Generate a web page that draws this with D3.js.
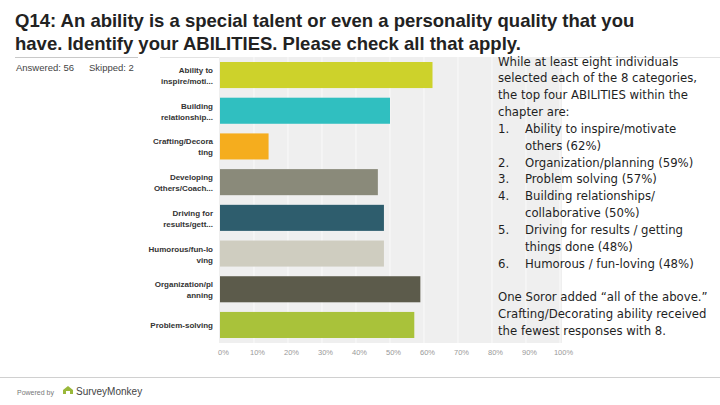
<!DOCTYPE html>
<html>
<head>
<meta charset="utf-8">
<script src="https://cdn.jsdelivr.net/npm/d3@7"></script>
<style>
  body { margin: 0; background: #fff; }
  svg { display: block; }
</style>
</head>
<body>
<svg></svg>
<script>
// categories, as SurveyMonkey shortens them (two lines each)
const categories = [
  ["Ability to", "inspire/moti..."],
  ["Building", "relationship..."],
  ["Crafting/Decora", "ting"],
  ["Developing", "Others/Coach..."],
  ["Driving for", "results/gett..."],
  ["Humorous/fun-lo", "ving"],
  ["Organization/pl", "anning"],
  ["Problem-solving"]
];
// responses out of 56 answered
const counts = [35, 28, 8, 26, 27, 27, 33, 32];
const answered = 56;
const barColors = ["#cdd22b", "#30bfc0", "#f5ad1e", "#8a8a7a", "#2e5d6d", "#cfcdc0", "#5c5b4b", "#a9c23a"];
const tickValues = [0, 0.1, 0.2, 0.3, 0.4, 0.5, 0.6, 0.7, 0.8, 0.9, 1];

const notes = [
  {n: "", t: "While at least eight individuals"},
  {n: "", t: "selected each of the 8 categories,"},
  {n: "", t: "the top four ABILITIES within the"},
  {n: "", t: "chapter are:"},
  {n: "1.", t: "Ability to inspire/motivate"},
  {n: "", t: "others (62%)", indent: true},
  {n: "2.", t: "Organization/planning (59%)"},
  {n: "3.", t: "Problem solving (57%)"},
  {n: "4.", t: "Building relationships/"},
  {n: "", t: "collaborative (50%)", indent: true},
  {n: "5.", t: "Driving for results / getting"},
  {n: "", t: "things done (48%)", indent: true},
  {n: "6.", t: "Humorous / fun-loving (48%)"},
  {n: "", t: ""},
  {n: "", t: "One Soror added \u201call of the above.\u201d"},
  {n: "", t: "Crafting/Decorating ability received"},
  {n: "", t: "the fewest responses with 8."}
];

const width = 720, height = 405;
const svg = d3.select("svg").attr("width", width).attr("height", height);

// title
const title = svg.append("text")
  .attr("font-family", "Liberation Sans, Arial, sans-serif")
  .attr("font-weight", "bold")
  .attr("font-size", 18.5)
  .attr("fill", "#222");
title.append("tspan").attr("x", 15).attr("y", 27).text("Q14: An ability is a special talent or even a personality quality that you");
title.append("tspan").attr("x", 15).attr("y", 50).text("have. Identify your ABILITIES. Please check all that apply.");

// header rules
svg.append("line").attr("x1", 15).attr("x2", 138).attr("y1", 57.5).attr("y2", 57.5)
  .attr("stroke", "#c8c8c8");
svg.append("line").attr("x1", 160).attr("x2", 720).attr("y1", 57.5).attr("y2", 57.5)
  .attr("stroke", "#e2e2e2");

svg.append("text")
  .attr("x", 16).attr("y", 71)
  .attr("font-family", "Liberation Sans, Arial, sans-serif")
  .attr("font-size", 9.5)
  .attr("fill", "#444")
  .text("Answered: 56");
svg.append("text")
  .attr("x", 89).attr("y", 71)
  .attr("font-family", "Liberation Sans, Arial, sans-serif")
  .attr("font-size", 9.5)
  .attr("fill", "#444")
  .text("Skipped: 2");

// chart
const plot = {left: 220, right: 560, top: 57, bottom: 343};

const x = d3.scaleLinear().domain([0, 1]).range([plot.left, plot.right]);
const y = d3.scaleBand()
  .domain(d3.range(categories.length))
  .range([plot.top, plot.bottom])
  .paddingInner(0.27)
  .paddingOuter(0.14);

svg.append("rect")
  .attr("x", plot.left - 1).attr("y", plot.top)
  .attr("width", plot.right - plot.left + 3).attr("height", plot.bottom - plot.top)
  .attr("fill", "#efefef");

svg.append("g")
  .selectAll("line")
  .data(tickValues.slice(1))
  .join("line")
  .attr("x1", d => x(d)).attr("x2", d => x(d))
  .attr("y1", plot.top).attr("y2", plot.bottom)
  .attr("stroke", "#fafafa")
  .attr("stroke-width", 1);

svg.append("g")
  .selectAll("rect")
  .data(counts)
  .join("rect")
  .attr("x", x(0))
  .attr("y", (d, i) => y(i))
  .attr("width", d => x(d / answered) - x(0))
  .attr("height", y.bandwidth())
  .attr("fill", (d, i) => barColors[i]);

// category labels
const labels = svg.append("g")
  .attr("font-family", "Liberation Sans, Arial, sans-serif")
  .attr("font-size", 8)
  .attr("font-weight", "bold")
  .attr("fill", "#333")
  .attr("text-anchor", "end");
categories.forEach((lines, i) => {
  const cy = y(i) + y.bandwidth() / 2;
  const t = labels.append("text").attr("x", 213);
  const off = lines.length === 1 ? 3 : -2;
  lines.forEach((s, j) => {
    t.append("tspan").attr("x", 213).attr("y", cy + off + j * 11).text(s);
  });
});

// x axis
const xAxis = d3.axisBottom(x)
  .tickValues(tickValues)
  .tickFormat(d3.format(".0%"))
  .tickSize(0)
  .tickPadding(0);
const gx = svg.append("g")
  .attr("transform", "translate(3," + 350 + ")")
  .call(xAxis);
gx.select(".domain").remove();
gx.selectAll("text")
  .attr("font-family", "Liberation Sans, Arial, sans-serif")
  .attr("font-size", 7.5)
  .attr("fill", "#999");

// notes on the right
const notesG = svg.append("g")
  .attr("font-family", "Liberation Sans Narrow, DejaVu Sans Condensed, sans-serif")
  .attr("font-size", 13)
  .attr("fill", "#1f1f1f");
notes.forEach((d, i) => {
  const yy = 65.5 + i * 16.85;
  if (d.n) notesG.append("text").attr("x", 498).attr("y", yy).text(d.n);
  notesG.append("text")
    .attr("x", d.n || d.indent ? 525 : 498)
    .attr("y", yy)
    .text(d.t);
});

// footer
svg.append("line").attr("x1", 0).attr("x2", 720).attr("y1", 377.5).attr("y2", 377.5)
  .attr("stroke", "#d0d0d0");
svg.append("text")
  .attr("x", 17).attr("y", 395)
  .attr("font-family", "Liberation Sans, Arial, sans-serif")
  .attr("font-size", 7)
  .attr("fill", "#777")
  .text("Powered by");
svg.append("path")
  .attr("d", "M63,394 L63,390 L68,386 L73,390 L73,394 L70,394 L70,391 L66,391 L66,394 Z")
  .attr("fill", "#9ab83a");
svg.append("text")
  .attr("x", 76).attr("y", 395)
  .attr("font-family", "Liberation Sans, Arial, sans-serif")
  .attr("font-size", 10)
  .attr("fill", "#444")
  .text("SurveyMonkey");
</script>
</body>
</html>
